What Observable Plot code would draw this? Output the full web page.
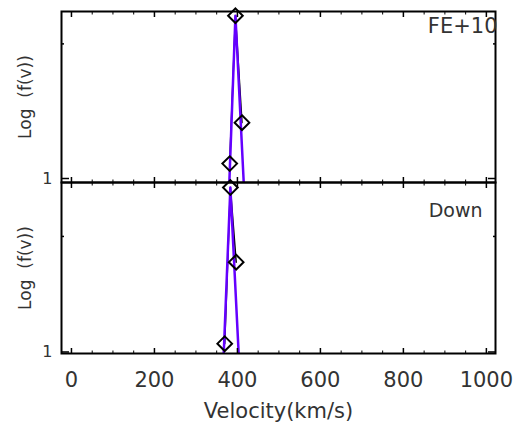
<!DOCTYPE html>
<html><head><meta charset="utf-8">
<script src="https://cdn.jsdelivr.net/npm/d3@7"></script>
<script src="https://cdn.jsdelivr.net/npm/@observablehq/plot@0.6"></script>
<style>
body{margin:0;background:#fff}
#chart{position:relative;width:517px;height:425px}
#chart svg{position:absolute;left:0}
</style>
</head><body><div id="chart"></div>
<script>
// ---- data ----
const xMajorTicks = [0, 200, 400, 600, 800, 1000];
const xMinorTicks = [50,100,150,250,300,350,450,500,550,650,700,750,850,900,950];
const yLabelTicks = [1];
const yMinorTicks = [10];

const topLabel = "FE+10";
const topVel   = [381.4, 395.2, 411.0];
const topF     = [1.29, 16.2, 2.60];
const topFitVel = [380.5, 395.2, 415.2];
const topFitF   = [0.934, 16.2, 0.934];

const botLabel = "Down";
const botVel   = [369.4, 383.0, 397.0];
const botF     = [1.18, 26.5, 5.99];
const botFitVel = [367.0, 383.0, 403.0];
const botFitF   = [0.97, 26.5, 0.97];

const xLabel = "Velocity(km/s)";
const yLabel = "Log  (f(v))";

const FONT = "DejaVu Sans";
const TXT = "#333";
const PURPLE = "#6400ff";

function panel({vel, f, fitVel, fitF, label, yDomain, top, height, mT, mB, bottomAxis, labelDx, labelDy, labelSize}) {
  const pts = vel.map((v, i) => ({v, f: f[i]}));
  const fit = fitVel.map((v, i) => ({v, f: fitF[i]}));
  const marks = [
    Plot.line(pts, {x: "v", y: "f", stroke: "black", strokeWidth: 1.5, clip: true}),
    Plot.line(fit, {x: "v", y: "f", stroke: PURPLE, strokeWidth: 2.5, clip: true}),
    Plot.dot(pts, {x: "v", y: "f", symbol: "diamond2", r: 6.6, stroke: "black", strokeWidth: 2, fill: "none"}),
    Plot.frame({stroke: "black", strokeWidth: 2}),
    // inward x ticks, top and bottom edges
    Plot.axisX({anchor: "top", ticks: xMajorTicks, tickSize: 5, dy: 5, tickFormat: () => "", label: null, strokeWidth: 1.5}),
    Plot.axisX({anchor: "top", ticks: xMinorTicks, tickSize: 2.5, dy: 2.5, tickFormat: () => "", label: null}),
    Plot.axisX({anchor: "bottom", ticks: xMajorTicks, tickSize: 5, dy: -5, tickFormat: () => "", label: null, strokeWidth: 1.5}),
    Plot.axisX({anchor: "bottom", ticks: xMinorTicks, tickSize: 2.5, dy: -2.5, tickFormat: () => "", label: null}),
    // inward y ticks, left and right
    Plot.axisY({anchor: "left", ticks: yLabelTicks, tickSize: 8, dx: 8, tickFormat: () => "", label: null, strokeWidth: 1.5}),
    Plot.axisY({anchor: "left", ticks: yMinorTicks, tickSize: 3, dx: 3, tickFormat: () => "", label: null, strokeWidth: 1.5}),
    Plot.axisY({anchor: "right", ticks: yLabelTicks, tickSize: 8, dx: -8, tickFormat: () => "", label: null, strokeWidth: 1.5}),
    Plot.axisY({anchor: "right", ticks: yMinorTicks, tickSize: 3, dx: -3, tickFormat: () => "", label: null, strokeWidth: 1.5}),
    // "1" label
    Plot.axisY({anchor: "left", ticks: yLabelTicks, tickSize: 0, tickPadding: 9, tickFormat: d => String(d), label: null, fontSize: 16, fill: TXT, fontFamily: FONT}),
    Plot.text([yLabel], {frameAnchor: "left", text: d => d, rotate: -90, textAnchor: "middle", lineAnchor: "middle", dx: -36, fontSize: 17, fill: TXT, fontFamily: FONT}),
    Plot.text([label], {frameAnchor: "top-right", text: d => d, textAnchor: "end", lineAnchor: "middle", dx: labelDx, dy: labelDy, fontSize: labelSize, fill: TXT, fontFamily: FONT})
  ];
  if (bottomAxis) {
    marks.push(Plot.axisX({anchor: "bottom", ticks: xMajorTicks, tickSize: 0, tickPadding: 19, tickFormat: d => String(d), label: null, fontSize: 21, fill: TXT, fontFamily: FONT}));
    marks.push(Plot.text([xLabel], {frameAnchor: "bottom", text: d => d, lineAnchor: "middle", dy: 58, fontSize: 21, fill: TXT, fontFamily: FONT}));
  }
  const svg = Plot.plot({
    width: 517, height,
    marginLeft: 61, marginRight: 22, marginTop: mT, marginBottom: mB,
    style: {background: "transparent", overflow: "visible"},
    x: {domain: [-24, 1022]},
    y: {type: "log", domain: yDomain},
    marks
  });
  svg.style.top = top + "px";
  return svg;
}

const chart = document.getElementById("chart");
chart.appendChild(panel({vel: topVel, f: topF, fitVel: topFitVel, fitF: topFitF, label: topLabel,
  yDomain: [0.934, 17.4], top: 0, height: 190, mT: 11, mB: 8, bottomAxis: false, labelDx: 2, labelDy: 15, labelSize: 21}));
chart.appendChild(panel({vel: botVel, f: botF, fitVel: botFitVel, fitF: botFitF, label: botLabel,
  yDomain: [0.97, 29.3], top: 182, height: 243, mT: 0, mB: 72, bottomAxis: true, labelDx: -13, labelDy: 28, labelSize: 19}));
</script>
</body></html>
